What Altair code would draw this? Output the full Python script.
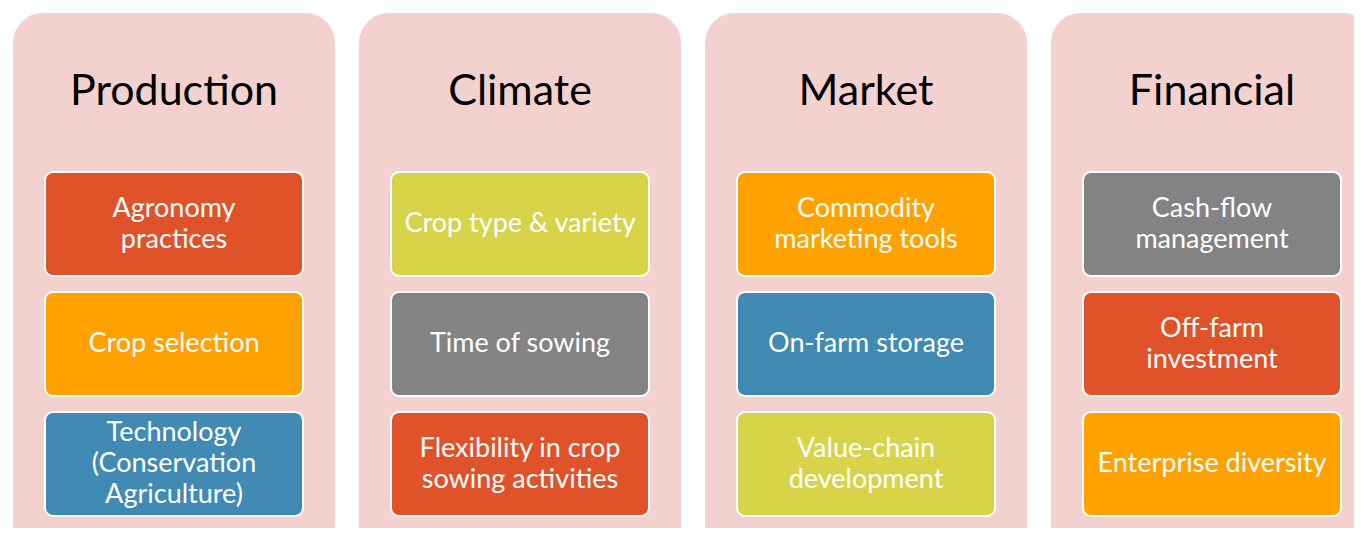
import altair as alt
import pandas as pd

categories = ["Production", "Climate", "Market", "Financial"]
items = [
    ["Agronomy\npractices", "Crop selection", "Technology\n(Conservation\nAgriculture)"],
    ["Crop type & variety", "Time of sowing", "Flexibility in crop\nsowing activities"],
    ["Commodity\nmarketing tools", "On-farm storage", "Value-chain\ndevelopment"],
    ["Cash-flow\nmanagement", "Off-farm\ninvestment", "Enterprise diversity"],
]
palette = {"red": "#E0532A", "orange": "#FFA200", "blue": "#418AB3",
           "gray": "#838383", "yellow": "#D7D44A"}
item_colors = [
    ["red", "orange", "blue"],
    ["yellow", "gray", "red"],
    ["orange", "blue", "yellow"],
    ["gray", "red", "orange"],
]
panel_fill = "#F2D1CE"

# layout (pixel coordinates of the reference picture)
PX0, PSTEP, PW = 13, 346, 322
BX0, BW = 45, 258
BY0, BSTEP, BH = 172, 120, 104
LH = 31

panels = []
boxes = []
for i, cat in enumerate(categories):
    x0 = PX0 + PSTEP * i
    panels.append({"cat": cat, "x": x0, "x2": x0 + PW, "y": 13, "y2": 580,
                   "tx": x0 + PW / 2, "ty": 105})
    for j, (txt, col) in enumerate(zip(items[i], item_colors[i])):
        bx = BX0 + PSTEP * i
        by = BY0 + BSTEP * j
        n = txt.count("\n") + 1
        boxes.append({"label": txt, "x": bx, "x2": bx + BW, "y": by, "y2": by + BH,
                      "tx": bx + BW / 2, "ty": by + BH / 2 - (n - 1) * LH / 2,
                      "fill": palette[col]})

pdf = pd.DataFrame(panels)
bdf = pd.DataFrame(boxes)

xs = alt.Scale(domain=[8, 1354], nice=False, zero=False)
ys = alt.Scale(domain=[8, 528], nice=False, zero=False, reverse=True)

def X(f):
    return alt.X(f, type="quantitative", scale=xs, axis=None)

def Y(f):
    return alt.Y(f, type="quantitative", scale=ys, axis=None)

panel_rects = alt.Chart(pdf).mark_rect(cornerRadius=30, fill=panel_fill, clip=True).encode(
    x=X("x"), x2="x2", y=Y("y"), y2="y2")

titles = alt.Chart(pdf).mark_text(font="Lato", fontSize=43, color="#000000",
                                  baseline="alphabetic", align="center").encode(
    x=X("tx"), y=Y("ty"), text="cat:N")

box_rects = alt.Chart(bdf).mark_rect(cornerRadius=8, stroke="white", strokeWidth=2).encode(
    x=X("x"), x2="x2", y=Y("y"), y2="y2", fill=alt.Fill("fill:N", scale=None))

box_text = alt.Chart(bdf).mark_text(font="Lato", fontSize=27, color="white",
                                    baseline="middle", align="center",
                                    lineBreak="\n", lineHeight=LH).encode(
    x=X("tx"), y=Y("ty"), text="label:N")

chart = alt.layer(panel_rects, titles, box_rects, box_text).properties(
    width=1346, height=520, padding=0, autosize=alt.AutoSizeParams(type="none"),
    background="white"
).configure_view(stroke=None)

chart.save("out.html", embed_options={"renderer": "svg", "actions": False})
